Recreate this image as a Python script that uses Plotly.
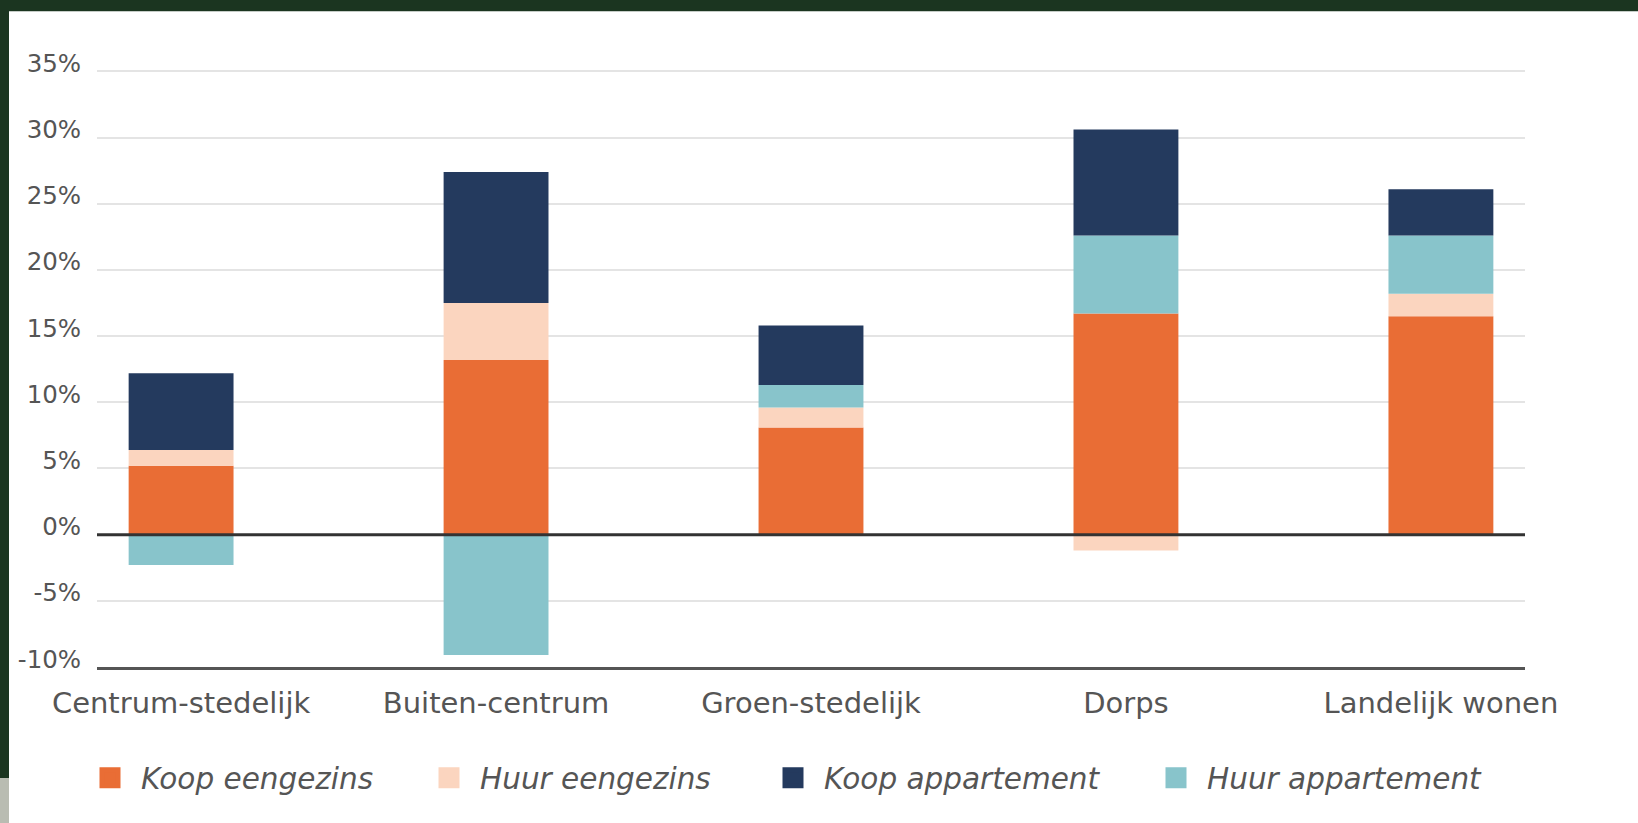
import plotly.graph_objects as go

categories = ["Centrum-stedelijk", "Buiten-centrum", "Groen-stedelijk", "Dorps", "Landelijk wonen"]
koop_eengezins = [5.2, 13.2, 8.1, 16.7, 16.5]
huur_eengezins = [1.2, 4.3, 1.5, -1.2, 1.7]
huur_appartement = [-2.3, -9.1, 1.7, 5.9, 4.4]
koop_appartement = [5.8, 9.9, 4.5, 8.0, 3.5]

y_ticks = [-10, -5, 0, 5, 10, 15, 20, 25, 30, 35]
y_tick_labels = [f"{v}%" for v in y_ticks]

# trace order = stacking order (bottom to top)
series = [
    ("Koop eengezins", koop_eengezins, "#E96D35"),
    ("Huur eengezins", huur_eengezins, "#FBD5BF"),
    ("Huur appartement", huur_appartement, "#88C4CB"),
    ("Koop appartement", koop_appartement, "#243A5E"),
]
legend_order = ["Koop eengezins", "Huur eengezins", "Koop appartement", "Huur appartement"]
legend_keys = ["legend", "legend2", "legend3", "legend4"]

FONT = "'DejaVu Sans', Verdana, sans-serif"
TXT = "#555555"

fig = go.Figure()
for name, vals, color in series:
    fig.add_trace(go.Bar(
        x=categories, y=vals, name=name,
        marker=dict(color=color, line=dict(width=0)),
        width=0.333, showlegend=False,
    ))

# legend entries (larger square swatches)
colors = {n: c for n, _, c in series}
for i, name in enumerate(legend_order):
    fig.add_trace(go.Scatter(
        x=[None], y=[None], name=name, mode="markers",
        marker=dict(symbol="square", size=16, color=colors[name],
                    line=dict(color=colors[name], width=5)),
        legend=legend_keys[i], showlegend=True, hoverinfo="skip",
    ))

# page geometry (pixels -> paper)
Y_MAX = 35.1
L, R, B = 97, 1525, 667
PX_PER_UNIT = 13.24
T = B - (Y_MAX + 10) * PX_PER_UNIT
W, H = R - L, B - T
def px(x):
    return (x - L) / W
def py(y):
    return (B - y) / H

shapes = [
    dict(type="rect", xref="paper", yref="paper", layer="below",
         x0=px(9), x1=px(1700), y0=py(900), y1=py(11),
         fillcolor="white", line=dict(width=0)),
    dict(type="rect", xref="paper", yref="paper", layer="below",
         x0=px(-20), x1=px(9), y0=py(900), y1=py(778),
         fillcolor="#B9BCB2", line=dict(width=0)),
    dict(type="line", xref="paper", yref="y", x0=0, x1=1, y0=0, y1=0,
         line=dict(color="#333333", width=3), layer="above"),
]

leg_common = dict(orientation="h", yanchor="middle", xanchor="left",
                  font=dict(family=FONT, size=29.5, color=TXT, style="italic"),
                  bgcolor="rgba(0,0,0,0)", itemwidth=52)
square_centers = [110, 449, 793, 1176]
legs = {}
for i, key in enumerate(legend_keys):
    legs[key] = dict(leg_common, x=px(square_centers[i] - 31), y=py(778))

fig.update_layout(
    width=1638, height=823,
    margin=dict(l=L, r=1638 - R, t=T, b=823 - B, autoexpand=False),
    paper_bgcolor="#1B3520",
    plot_bgcolor="white",
    barmode="relative",
    showlegend=True,
    shapes=shapes,
    font=dict(family=FONT, color=TXT, size=26),
    xaxis=dict(
        range=[-0.267, 4.267], showgrid=False, zeroline=False,
        showline=True, linecolor="#555555", linewidth=2.5,
        ticks="outside", ticklen=8, tickcolor="rgba(0,0,0,0)",
        tickfont=dict(family=FONT, size=29, color=TXT),
        fixedrange=True,
    ),
    yaxis=dict(
        range=[-10, Y_MAX], tickvals=y_ticks, ticktext=y_tick_labels,
        showgrid=True, gridcolor="#E4E4E4", gridwidth=2,
        zeroline=False, showline=False,
        ticks="outside", ticklen=10, tickcolor="rgba(0,0,0,0)",
        ticklabelshift=-8,
        tickfont=dict(family=FONT, size=24.5, color=TXT),
        fixedrange=True,
    ),
    **legs,
)

fig.write_html("out.html", config={"displayModeBar": False},
               post_script="document.body.style.margin='0';")
